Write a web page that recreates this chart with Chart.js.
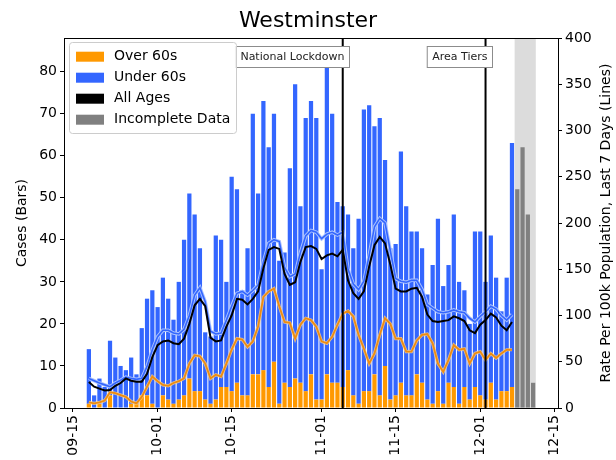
<!DOCTYPE html>
<html>
<head>
<meta charset="utf-8">
<title>Westminster</title>
<script src="https://cdn.jsdelivr.net/npm/chart.js@4.4.0/dist/chart.umd.min.js"></script>
<style>
  html, body { margin: 0; padding: 0; background: #fff; }
  #wrap { width: 616px; height: 460px; }
</style>
</head>
<body>
<div id="wrap"><canvas id="chart" width="616" height="460"></canvas></div>
<script>
'use strict';

// x values are days counted from 15 Sep; the first bar is 18 Sep
var firstDay = 3;

var over60 = [1, 0, 1, 0, 3, 0, 0, 0, 1, 1, 3, 3, 1, 0, 3, 2, 1, 2, 3, 7,
              4, 4, 2, 1, 2, 5, 5, 4, 6, 3, 3, 8, 8, 9, 5, 11, 1, 6, 5, 7,
              6, 4, 8, 2, 2, 8, 6, 6, 5, 9, 3, 1, 4, 4, 8, 3, 10, 2, 3, 6,
              3, 3, 8, 6, 2, 1, 4, 1, 6, 5, 1, 5, 2, 5, 3, 2, 6, 2, 4, 4, 5];
var under60 = [13, 3, 6, 5, 13, 12, 10, 9, 11, 7, 16, 23, 27, 24, 28, 24, 20, 28, 37, 44,
               42, 34, 16, 16, 39, 35, 25, 51, 46, 25, 35, 62, 43, 64, 57, 59, 34, 31, 52, 70,
               42, 65, 65, 67, 31, 76, 64, 43, 43, 37, 35, 44, 67, 68, 59, 66, 49, 36, 36, 55,
               45, 39, 34, 32, 25, 33, 41, 28, 28, 41, 29, 23, 18, 37, 39, 28, 35, 29, 19, 27, 58];
var incomplete = [52, 62, 46, 6];

var rateAll = [28, 23, 21, 19, 19.5, 24, 27, 32, 29.5, 28.5, 28.5, 37, 55, 68, 72, 73, 70, 69, 75, 91,
               111, 118, 110, 76, 72, 73, 88, 100, 118, 117, 112, 118, 126, 151, 171, 174, 172, 145, 133, 136,
               158, 174, 175, 172, 161, 165, 167, 164, 171, 138, 124, 118, 126, 153, 176, 185, 178, 155, 129, 126,
               126, 129, 130, 120, 101, 94, 93, 94, 95, 99, 97, 94, 84, 81, 90, 95, 102, 98, 89, 84, 93];
var rateUnder60 = [32, 29.5, 27, 25, 23, 27, 30, 33.5, 32, 31, 32, 45, 63, 77, 84, 84, 81, 80, 85, 100,
                   122, 130, 115, 83, 80, 81, 95, 110, 124, 126, 122, 127, 133, 158, 178, 182, 180, 152, 142, 145,
                   168, 186, 192, 190, 183, 188, 190, 187, 190, 150, 134, 128, 137, 165, 196, 205, 200, 170, 140, 137,
                   136, 138, 138, 128, 112, 108, 104, 103, 104, 106, 104, 103, 97, 93, 99, 104, 110, 107, 100, 95, 101];
var rateOver60 = [6, 5, 6, 8, 17, 16, 14, 12, 7, 5, 12, 23, 34, 29, 25, 24, 27, 29, 32, 48,
                  57, 56, 48, 32, 36, 34, 48, 63, 75, 74, 66, 72, 88, 120, 126, 129, 110, 93, 92, 75,
                  90, 97, 95, 88, 72, 70, 77, 90, 102, 105, 99, 79, 64, 48, 59, 79, 97, 91, 75, 75,
                  61, 61, 73, 79, 80, 70, 48, 39, 52, 68, 63, 64, 48, 59, 61, 52, 59, 54, 59, 63, 63];

var tickDays   = [0, 16, 30, 47, 61, 77, 91];
var tickLabels = ['09-15', '10-01', '10-15', '11-01', '11-15', '12-01', '12-15'];

var eventDays   = [51, 78];
var eventLabels = ['National Lockdown', 'Area Tiers'];
var incompleteSpan = [83.5, 87.5];

var colorOver  = '#ff9900';
var colorUnder = '#3366ff';
var colorGray  = '#808080';
var fontFamily = '"DejaVu Sans", sans-serif';

function toPoints(values, start) {
    return values.map(function (v, i) { return { x: start + i, y: v }; });
}

var decorations = {
    id: 'decorations',
    beforeDatasetsDraw: function (chart) {
        var ctx = chart.ctx, a = chart.chartArea, xs = chart.scales.x;
        var x0 = xs.getPixelForValue(incompleteSpan[0]);
        var x1 = xs.getPixelForValue(incompleteSpan[1]);
        ctx.save();
        ctx.fillStyle = '#dcdcdc';
        ctx.fillRect(x0, a.top, x1 - x0, a.bottom - a.top);
        ctx.restore();
    },
    afterDatasetsDraw: function (chart) {
        var ctx = chart.ctx, a = chart.chartArea, xs = chart.scales.x;
        ctx.save();
        ctx.font = '11px ' + fontFamily;
        eventDays.forEach(function (d, i) {
            var px = xs.getPixelForValue(d);
            ctx.strokeStyle = '#000';
            ctx.lineWidth = 2;
            ctx.beginPath();
            ctx.moveTo(px, a.top);
            ctx.lineTo(px, a.bottom);
            ctx.stroke();

            var w = ctx.measureText(eventLabels[i]).width;
            var right = Math.round(px + 6) + 0.5;
            var left = right - w - 10;
            var top = a.top + 8.5;
            ctx.fillStyle = '#fff';
            ctx.fillRect(left, top, right - left, 21);
            ctx.strokeStyle = '#8c8c8c';
            ctx.lineWidth = 1;
            ctx.strokeRect(left, top, right - left, 21);
            ctx.fillStyle = '#222';
            ctx.textAlign = 'left';
            ctx.textBaseline = 'middle';
            ctx.fillText(eventLabels[i], left + 5, top + 11);
        });
        ctx.restore();
    },
    afterDraw: function (chart) {
        var ctx = chart.ctx, a = chart.chartArea;
        var mid = (a.top + a.bottom) / 2;
        ctx.save();

        // top spine
        ctx.strokeStyle = '#000';
        ctx.lineWidth = 1;
        ctx.beginPath();
        ctx.moveTo(a.left, a.top + 0.5);
        ctx.lineTo(a.right, a.top + 0.5);
        ctx.stroke();

        // axis titles
        ctx.fillStyle = '#000';
        ctx.font = '14px ' + fontFamily;
        ctx.textAlign = 'center';
        ctx.textBaseline = 'middle';
        ctx.save();
        ctx.translate(22, mid);
        ctx.rotate(-Math.PI / 2);
        ctx.fillText('Cases (Bars)', 0, 0);
        ctx.restore();
        ctx.save();
        ctx.translate(606, mid);
        ctx.rotate(-Math.PI / 2);
        ctx.fillText('Rate Per 100k Population, Last 7 Days (Lines)', 0, 0);
        ctx.restore();

        // legend
        var items = [['Over 60s', colorOver], ['Under 60s', colorUnder],
                     ['All Ages', '#000'], ['Incomplete Data', colorGray]];
        var bx = a.left + 5.5, by = a.top + 4.5;
        ctx.fillStyle = 'rgba(255,255,255,0.85)';
        ctx.strokeStyle = '#cccccc';
        ctx.beginPath();
        ctx.roundRect(bx, by, 167, 91, 3);
        ctx.fill();
        ctx.stroke();
        ctx.textAlign = 'left';
        items.forEach(function (it, i) {
            var cy = a.top + 18.7 + i * 21;
            ctx.fillStyle = it[1];
            ctx.fillRect(a.left + 12, cy - 5, 28, 10);
            ctx.fillStyle = '#000';
            ctx.fillText(it[0], a.left + 50, cy);
        });
        ctx.restore();
    }
};

Chart.defaults.font.family = fontFamily;
Chart.defaults.font.size = 14;
Chart.defaults.color = '#000';

var barCommon = { yAxisID: 'y', stack: 'cases', order: 20, barPercentage: 1, categoryPercentage: 0.8 };
var lineCommon = { type: 'line', yAxisID: 'y2', pointRadius: 0, fill: false, tension: 0 };

new Chart(document.getElementById('chart'), {
    type: 'bar',
    data: {
        datasets: [
            Object.assign({ label: 'Over 60s', data: toPoints(over60, firstDay), backgroundColor: colorOver }, barCommon),
            Object.assign({ label: 'Under 60s', data: toPoints(under60, firstDay), backgroundColor: colorUnder }, barCommon),
            Object.assign({ label: 'Incomplete Data', data: toPoints(incomplete, firstDay + over60.length), backgroundColor: colorGray }, barCommon),
            Object.assign({ label: 'Under 60s halo', data: toPoints(rateUnder60, firstDay), borderColor: '#a9c1ff', borderWidth: 3.5, order: 9 }, lineCommon),
            Object.assign({ label: 'Under 60s rate', data: toPoints(rateUnder60, firstDay), borderColor: colorUnder, borderWidth: 1.6, order: 8 }, lineCommon),
            Object.assign({ label: 'Over 60s halo', data: toPoints(rateOver60, firstDay), borderColor: 'rgba(255,210,140,0.8)', borderWidth: 3.2, order: 7 }, lineCommon),
            Object.assign({ label: 'Over 60s rate', data: toPoints(rateOver60, firstDay), borderColor: '#ee8c10', borderWidth: 1.8, order: 6 }, lineCommon),
            Object.assign({ label: 'All Ages', data: toPoints(rateAll, firstDay), borderColor: '#000', borderWidth: 2, order: 5 }, lineCommon)
        ]
    },
    options: {
        responsive: false,
        animation: false,
        layout: { padding: 0 },
        plugins: {
            legend: { display: false },
            tooltip: { enabled: false },
            title: {
                display: true,
                text: 'Westminster',
                font: { size: 22, weight: 'normal' },
                color: '#000',
                padding: { top: 8, bottom: 3.6 }
            }
        },
        scales: {
            x: {
                type: 'linear',
                min: -1.7,
                max: 91.7,
                offset: false,
                afterBuildTicks: function (scale) {
                    scale.ticks = tickDays.map(function (d) { return { value: d }; });
                },
                afterFit: function (scale) { scale.height = 52; },
                ticks: {
                    autoSkip: false,
                    minRotation: 90,
                    maxRotation: 90,
                    padding: 3,
                    callback: function (v) { return tickLabels[tickDays.indexOf(v)]; }
                },
                grid: { offset: false, drawOnChartArea: false, tickLength: 4, color: '#000' },
                border: { display: true, color: '#000' }
            },
            y: {
                position: 'left',
                stacked: true,
                min: 0,
                max: 88,
                afterFit: function (scale) { scale.width = 64; },
                ticks: { stepSize: 10, includeBounds: false, padding: 3 },
                grid: { drawOnChartArea: false, tickLength: 4, color: '#000' },
                border: { display: true, color: '#000' }
            },
            y2: {
                position: 'right',
                min: 0,
                max: 400,
                afterFit: function (scale) { scale.width = 58; },
                ticks: { stepSize: 50, padding: 3 },
                grid: { drawOnChartArea: false, tickLength: 4, color: '#000' },
                border: { display: true, color: '#000' }
            }
        }
    },
    plugins: [decorations]
});
</script>
</body>
</html>
